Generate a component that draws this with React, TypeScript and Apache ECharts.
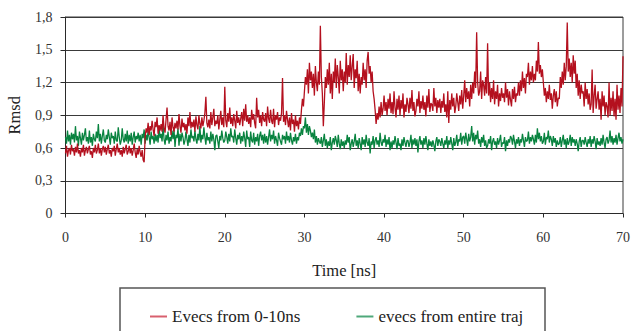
import React, { useEffect, useRef } from "react";
import * as echarts from "echarts";

// sampling step of the trajectories (ns): 8 samples per ns
const STEP = 0.125;

// "Evecs from 0-10ns" – one row per ns, 0 .. 70 ns
const redRmsd = [
  0.55, 0.62, 0.52, 0.58, 0.6, 0.54, 0.63, 0.57,
  0.59, 0.53, 0.61, 0.56, 0.64, 0.55, 0.58, 0.52,
  0.6, 0.56, 0.63, 0.53, 0.58, 0.61, 0.55, 0.59,
  0.62, 0.54, 0.57, 0.51, 0.6, 0.56, 0.63, 0.55,
  0.58, 0.64, 0.55, 0.6, 0.53, 0.59, 0.62, 0.56,
  0.61, 0.54, 0.59, 0.63, 0.55, 0.58, 0.52, 0.6,
  0.57, 0.62, 0.53, 0.59, 0.64, 0.56, 0.6, 0.54,
  0.58, 0.52, 0.61, 0.55, 0.59, 0.63, 0.54, 0.57,
  0.62, 0.55, 0.6, 0.53, 0.58, 0.64, 0.56, 0.51,
  0.59, 0.54, 0.62, 0.56, 0.52, 0.58, 0.49, 0.47,
  0.7, 0.78, 0.74, 0.83, 0.72, 0.8, 0.76, 0.85,
  0.77, 0.71, 0.84, 0.79, 0.88, 0.73, 0.81, 0.76,
  0.82, 0.75, 0.9, 0.78, 0.74, 0.86, 0.97, 0.8,
  0.76, 0.84, 0.72, 0.88, 0.79, 0.75, 0.83, 0.78,
  0.85, 0.77, 0.91, 0.8, 0.74, 0.87, 0.79, 0.83,
  0.76, 0.82, 0.73, 0.88, 0.8, 0.93, 0.78, 0.84,
  0.79, 0.86, 0.75, 0.89, 0.81, 0.77, 0.9, 0.82,
  0.78, 0.88, 0.8, 0.85, 0.92, 1.07, 0.83, 0.79,
  0.86, 0.78, 0.93, 0.81, 0.88, 0.96, 0.8, 0.85,
  0.82, 0.9, 0.77, 0.86, 0.94, 0.81, 0.88, 0.79,
  1.16, 0.85, 0.79, 0.92, 0.84, 0.97, 0.82, 0.88,
  0.8, 0.91, 0.85, 0.78, 0.94, 0.83, 0.88, 0.81,
  0.87, 0.93, 0.8, 0.96, 0.85, 1.0, 0.84, 0.9,
  0.82, 0.88, 0.79, 0.95, 0.86, 0.91, 0.83, 0.78,
  1.06, 0.88, 0.95, 0.83, 0.9, 0.8, 0.93, 0.86,
  0.84, 0.92, 0.8, 0.98, 0.87, 0.83, 0.95, 0.85,
  0.82, 0.96, 0.79, 0.9, 0.86, 0.93, 0.81, 0.88,
  0.85, 0.92, 1.24, 0.84, 0.9, 0.81, 0.94, 0.86,
  0.79, 0.88, 0.76, 0.92, 0.82, 0.86, 0.75, 0.9,
  0.8, 0.85, 0.77, 0.88, 0.82, 0.95, 1.05, 0.98,
  1.12, 1.25, 1.18, 1.32, 1.1, 1.38, 1.22, 1.3,
  1.15, 1.28, 1.08, 1.35, 1.2, 1.12, 1.3, 1.18,
  1.72, 1.25, 1.1, 0.8, 1.02, 1.25, 1.15, 1.32,
  1.18, 1.38, 1.1, 1.28, 1.05, 1.3, 1.2, 1.42,
  1.15, 1.36, 1.25, 1.1, 1.4, 1.22, 1.32, 1.12,
  1.3, 1.2, 1.47, 1.18, 1.36, 1.25, 1.45, 1.22,
  1.35, 1.46, 1.15, 1.32, 1.24, 1.4, 1.12, 1.28,
  1.1, 1.25, 1.18, 1.38, 1.22, 1.32, 1.15, 1.4,
  1.48, 1.28, 1.35, 1.2, 1.3, 1.12, 1.05, 0.95,
  0.82, 0.92, 0.86, 0.98, 0.88, 1.02, 0.9, 0.96,
  1.08, 0.94, 1.02, 0.9, 1.05, 0.96, 1.1, 0.92,
  1.02, 0.91, 1.12, 0.97, 0.88, 1.05, 0.95, 1.08,
  0.9, 1.04, 0.96, 1.1, 0.88, 1.0, 0.93, 1.06,
  1.0, 0.92, 1.06, 0.96, 1.13, 0.94, 1.02, 0.89,
  0.94, 1.05, 0.98, 1.12, 0.92, 1.03, 0.96, 1.08,
  0.95, 1.02, 0.89, 1.08, 0.97, 1.14, 0.93, 1.01,
  1.0, 0.94, 1.15, 0.98, 1.06, 0.92, 1.04, 0.97,
  1.05, 0.92, 1.03, 0.97, 1.1, 0.93, 1.0, 0.88,
  1.12, 0.83, 1.04, 0.95, 1.1, 0.98, 1.06, 0.92,
  0.98, 1.1, 1.02, 0.94, 1.08, 1.0, 1.13, 0.96,
  1.08, 1.22, 1.02, 1.15, 1.05, 1.12, 0.98, 1.18,
  1.05, 1.2, 1.1, 1.3, 1.15, 1.66, 1.2, 1.08,
  1.12, 1.3, 1.05, 1.22, 1.18, 1.08, 1.25, 1.1,
  1.56, 1.08, 1.2, 1.02, 1.15, 1.05, 1.22, 1.0,
  1.12, 1.05, 1.18, 0.98, 1.1, 1.03, 1.15, 1.06,
  1.1, 1.02, 1.2, 1.06, 1.14, 0.99, 1.12, 1.04,
  0.98, 1.14, 1.05, 1.16, 1.02, 1.1, 1.08, 1.2,
  1.08, 1.22, 1.12, 1.3, 1.15, 1.24, 1.1, 1.28,
  1.25, 1.38, 1.18, 1.3, 1.22, 1.35, 1.2, 1.28,
  1.22, 1.4, 1.3, 1.57, 1.28, 1.36, 1.25, 1.32,
  1.2, 1.08, 1.15, 1.02, 1.12, 1.05, 1.18, 1.04,
  1.1, 0.96, 1.08, 1.14, 1.02, 1.12, 0.98, 1.06,
  1.05, 1.25, 1.15, 1.3, 1.18, 1.38, 1.22, 1.35,
  1.75, 1.3, 1.42, 1.25, 1.38, 1.2, 1.45, 1.28,
  1.4, 1.15, 1.28, 1.08, 1.22, 1.05, 1.18, 1.1,
  1.12, 0.98, 1.2, 1.05, 1.14, 1.0, 1.1, 0.95,
  1.0, 1.32, 0.92, 1.08, 1.18, 0.96, 1.05, 1.12,
  0.95, 1.05, 0.86, 1.12, 0.98, 1.08, 0.9, 1.02,
  0.98, 0.88, 1.2, 0.9, 1.06, 0.94, 1.12, 0.89,
  1.05, 0.86, 1.18, 0.95, 1.08, 0.92, 1.15, 0.98,
  1.44,
];

// "evecs from entire traj" – one row per ns, 0 .. 70 ns
const greenRmsd = [
  0.7, 0.64, 0.76, 0.66, 0.72, 0.63, 0.74, 0.68,
  0.73, 0.65, 0.8, 0.67, 0.71, 0.62, 0.75, 0.69,
  0.63, 0.74, 0.67, 0.72, 0.78, 0.66, 0.7, 0.64,
  0.76, 0.65, 0.7, 0.62, 0.73, 0.68, 0.66, 0.75,
  0.69, 0.82, 0.66, 0.73, 0.64, 0.71, 0.77, 0.67,
  0.65, 0.72, 0.68, 0.77, 0.7, 0.63, 0.74, 0.69,
  0.71, 0.64, 0.75, 0.67, 0.66, 0.79, 0.7, 0.63,
  0.67, 0.78, 0.68, 0.65, 0.73, 0.66, 0.76, 0.64,
  0.72, 0.66, 0.74, 0.63, 0.7, 0.75, 0.65, 0.71,
  0.68, 0.74, 0.66, 0.72, 0.63, 0.73, 0.69, 0.77,
  0.64, 0.72, 0.67, 0.76, 0.7, 0.63, 0.75, 0.68,
  0.71, 0.64, 0.73, 0.66, 0.72, 0.65, 0.79, 0.69,
  0.73, 0.66, 0.81, 0.68, 0.63, 0.72, 0.67, 0.75,
  0.64, 0.7, 0.66, 0.76, 0.68, 0.77, 0.61, 0.72,
  0.69, 0.78, 0.62, 0.73, 0.66, 0.74, 0.7, 0.63,
  0.67, 0.75, 0.68, 0.62, 0.72, 0.65, 0.77, 0.69,
  0.71, 0.66, 0.76, 0.68, 0.64, 0.73, 0.67, 0.8,
  0.65, 0.72, 0.68, 0.79, 0.7, 0.63, 0.74, 0.67,
  0.7, 0.64, 0.75, 0.66, 0.73, 0.68, 0.58, 0.71,
  0.72, 0.66, 0.6, 0.71, 0.67, 0.76, 0.69, 0.65,
  0.67, 0.75, 0.7, 0.64, 0.73, 0.66, 0.78, 0.7,
  0.71, 0.65, 0.77, 0.69, 0.63, 0.72, 0.68, 0.74,
  0.64, 0.71, 0.66, 0.75, 0.69, 0.61, 0.76, 0.68,
  0.7, 0.61, 0.75, 0.67, 0.65, 0.74, 0.63, 0.7,
  0.66, 0.73, 0.62, 0.71, 0.75, 0.67, 0.72, 0.64,
  0.73, 0.65, 0.71, 0.63, 0.7, 0.77, 0.66, 0.72,
  0.68, 0.76, 0.64, 0.71, 0.67, 0.62, 0.74, 0.69,
  0.66, 0.63, 0.72, 0.68, 0.71, 0.64, 0.75, 0.67,
  0.71, 0.65, 0.74, 0.67, 0.63, 0.7, 0.66, 0.73,
  0.64, 0.7, 0.67, 0.74, 0.71, 0.78, 0.72, 0.8,
  0.78, 0.88, 0.74, 0.82, 0.72, 0.8, 0.76, 0.7,
  0.74, 0.68, 0.77, 0.65, 0.71, 0.63, 0.69, 0.66,
  0.64, 0.7, 0.61, 0.67, 0.73, 0.62, 0.68, 0.6,
  0.66, 0.62, 0.7, 0.58, 0.65, 0.69, 0.63, 0.71,
  0.67, 0.61, 0.72, 0.64, 0.59, 0.68, 0.62, 0.66,
  0.6, 0.67, 0.63, 0.72, 0.65, 0.7, 0.58, 0.64,
  0.68, 0.61, 0.66, 0.73, 0.62, 0.67, 0.6, 0.69,
  0.64, 0.58, 0.7, 0.63, 0.68, 0.61, 0.72, 0.65,
  0.62, 0.69, 0.55, 0.66, 0.63, 0.71, 0.6, 0.67,
  0.7, 0.63, 0.67, 0.61, 0.74, 0.65, 0.62, 0.68,
  0.65, 0.72, 0.61, 0.68, 0.63, 0.7, 0.58, 0.66,
  0.6, 0.67, 0.63, 0.71, 0.65, 0.59, 0.69, 0.62,
  0.64, 0.58, 0.68, 0.62, 0.7, 0.65, 0.61, 0.67,
  0.67, 0.61, 0.65, 0.72, 0.6, 0.68, 0.63, 0.69,
  0.62, 0.68, 0.56, 0.66, 0.71, 0.63, 0.67, 0.6,
  0.69, 0.63, 0.71, 0.64, 0.58, 0.68, 0.62, 0.66,
  0.61, 0.67, 0.63, 0.57, 0.66, 0.7, 0.62, 0.68,
  0.66, 0.62, 0.69, 0.64, 0.6, 0.67, 0.63, 0.71,
  0.6, 0.67, 0.63, 0.7, 0.64, 0.58, 0.69, 0.62,
  0.65, 0.72, 0.62, 0.68, 0.66, 0.74, 0.63, 0.7,
  0.71, 0.64, 0.74, 0.68, 0.62, 0.73, 0.66, 0.7,
  0.8, 0.66, 0.74, 0.63, 0.72, 0.68, 0.76, 0.64,
  0.68, 0.61, 0.7, 0.65, 0.72, 0.62, 0.67, 0.6,
  0.62, 0.68, 0.64, 0.71, 0.58, 0.66, 0.69, 0.63,
  0.66, 0.6, 0.69, 0.63, 0.67, 0.72, 0.61, 0.65,
  0.64, 0.7, 0.57, 0.67, 0.62, 0.68, 0.65, 0.71,
  0.69, 0.63, 0.72, 0.66, 0.6, 0.68, 0.64, 0.7,
  0.62, 0.68, 0.65, 0.73, 0.67, 0.61, 0.7, 0.66,
  0.67, 0.75, 0.64, 0.7, 0.66, 0.72, 0.68, 0.63,
  0.72, 0.65, 0.78, 0.68, 0.74, 0.66, 0.71, 0.64,
  0.66, 0.74, 0.63, 0.7, 0.68, 0.76, 0.65, 0.71,
  0.68, 0.62, 0.71, 0.65, 0.69, 0.61, 0.67, 0.63,
  0.64, 0.7, 0.61, 0.67, 0.72, 0.63, 0.68, 0.6,
  0.69, 0.63, 0.66, 0.72, 0.62, 0.7, 0.65, 0.68,
  0.62, 0.68, 0.64, 0.57, 0.66, 0.7, 0.61, 0.67,
  0.67, 0.63, 0.7, 0.65, 0.61, 0.68, 0.64, 0.71,
  0.61, 0.68, 0.64, 0.71, 0.66, 0.59, 0.69, 0.63,
  0.66, 0.62, 0.69, 0.63, 0.72, 0.65, 0.6, 0.68,
  0.7, 0.64, 0.67, 0.76, 0.65, 0.71, 0.63, 0.69,
  0.65, 0.72, 0.63, 0.69, 0.74, 0.66, 0.7, 0.64,
  0.68,
];

const xTicks = { min: 0, max: 70, interval: 10 };
const yTicks = { min: 0, max: 1.8, interval: 0.3 };

const SERIES_RED = "Evecs from 0-10ns";
const SERIES_GREEN = "evecs from entire traj";

const toPairs = (vals: number[]) => vals.map((v, i) => [i * STEP, v]);

const FONT = "Liberation Serif";

export default function App() {
  const ref = useRef<HTMLDivElement>(null);

  useEffect(() => {
    if (!ref.current) return;
    const chart = echarts.init(ref.current, undefined, { renderer: "svg" });
    chart.setOption({
      animation: false,
      backgroundColor: "#ffffff",
      textStyle: { fontFamily: FONT },
      grid: {
        left: 65.5,
        right: 9,
        top: 17,
        bottom: 117.5,
        outerBoundsMode: "none",
        containLabel: false,
        show: true,
        borderColor: "#3a3a3a",
        borderWidth: 1,
      },
      xAxis: {
        type: "value",
        min: xTicks.min,
        max: xTicks.max,
        interval: xTicks.interval,
        name: "Time [ns]",
        nameLocation: "middle",
        nameGap: 48,
        nameTextStyle: { fontFamily: FONT, fontSize: 16.5, color: "#222" },
        axisLine: { lineStyle: { color: "#2a2a2a", width: 1 } },
        axisTick: { show: true, inside: false, length: 4, lineStyle: { color: "#2a2a2a" } },
        axisLabel: { fontFamily: FONT, fontSize: 14, color: "#333", margin: 17 },
        splitLine: { show: false },
      },
      yAxis: {
        type: "value",
        min: yTicks.min,
        max: yTicks.max,
        interval: yTicks.interval,
        name: "Rmsd",
        nameLocation: "middle",
        nameGap: 43,
        nameTextStyle: { fontFamily: FONT, fontSize: 16.5, color: "#222" },
        axisLine: { show: true, lineStyle: { color: "#2a2a2a", width: 1 } },
        axisTick: { show: true, inside: false, length: 5, lineStyle: { color: "#2a2a2a" } },
        axisLabel: {
          fontFamily: FONT,
          fontSize: 14,
          color: "#333",
          margin: 13,
          formatter: (v: number) => (v === 0 ? "0" : v.toFixed(1).replace(".", ",")),
        },
        splitLine: { show: true, lineStyle: { color: "#3a3a3a", width: 1 } },
      },
      legend: {
        left: 145,
        top: 303,
        itemGap: 56,
        itemWidth: 17,
        itemHeight: 2,
        icon: "rect",
        textStyle: { fontFamily: FONT, fontSize: 17, color: "#222" },
        data: [
          { name: SERIES_RED, itemStyle: { color: "#d8606e" } },
          { name: SERIES_GREEN, itemStyle: { color: "#4fa87a" } },
        ],
      },
      graphic: [
        {
          type: "rect",
          left: 117.5,
          top: 285.5,
          shape: { x: 0, y: 0, width: 425, height: 70 },
          style: { fill: "none", stroke: "#555", lineWidth: 1.5 },
          silent: true,
        },
      ],
      series: [
        {
          name: SERIES_GREEN,
          type: "line",
          data: toPairs(greenRmsd),
          showSymbol: false,
          symbol: "none",
          lineStyle: { color: "#08833f", width: 1.3 },
          itemStyle: { color: "#08833f" },
        },
        {
          name: SERIES_RED,
          type: "line",
          data: toPairs(redRmsd),
          showSymbol: false,
          symbol: "none",
          lineStyle: { color: "#b4101e", width: 1.3 },
          itemStyle: { color: "#b4101e" },
        },
      ],
    });
    return () => chart.dispose();
  }, []);

  return (
    <div
      ref={ref}
      style={{ position: "absolute", left: 0, top: 0, width: 632, height: 331, background: "#fff" }}
    />
  );
}
